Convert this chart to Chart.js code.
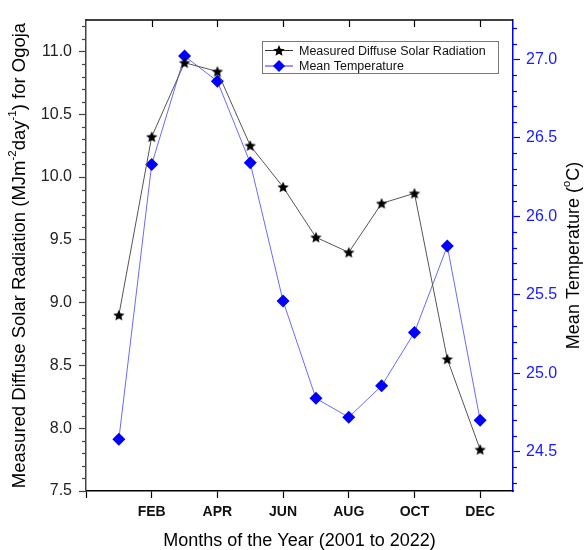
<!DOCTYPE html>
<html>
<head>
<meta charset="utf-8">
<script src="https://cdn.jsdelivr.net/npm/chart.js@4/dist/chart.umd.min.js"></script>
<style>
  html, body { margin: 0; padding: 0; background: #fff; }
  #wrap { width: 586px; height: 550px; position: relative; }
</style>
</head>
<body>
<div id="wrap"><canvas id="c"></canvas></div>
<script>
// ---- data ----
const monthNames = ['', 'JAN', 'FEB', 'MAR', 'APR', 'MAY', 'JUN', 'JUL', 'AUG', 'SEP', 'OCT', 'NOV', 'DEC'];
const monthIndex = [1, 2, 3, 4, 5, 6, 7, 8, 9, 10, 11, 12];
const radiation = [8.90, 10.32, 10.91, 10.84, 10.25, 9.92, 9.52, 9.40, 9.79, 9.87, 8.55, 7.83];
const temperature = [24.58, 26.33, 27.02, 26.86, 26.34, 25.46, 24.84, 24.72, 24.92, 25.26, 25.81, 24.70];
const xTicks = [0, 2, 4, 6, 8, 10, 12];
const leftTicks = [7.5, 8.0, 8.5, 9.0, 9.5, 10.0, 10.5, 11.0];
const rightTicks = [24.5, 25.0, 25.5, 26.0, 26.5, 27.0];
const seriesNames = ['Measured Diffuse Solar Radiation', 'Mean Temperature'];

const FONT = '"Liberation Sans", Arial, sans-serif';

function makeStar(r, color) {
  const s = Math.ceil(r * 2 + 2);
  const c = document.createElement('canvas');
  c.width = s; c.height = s;
  const g = c.getContext('2d');
  g.fillStyle = color;
  g.beginPath();
  for (let i = 0; i < 10; i++) {
    const rad = i % 2 ? r * 0.45 : r;
    const a = -Math.PI / 2 + i * Math.PI / 5;
    g.lineTo(s / 2 + rad * Math.cos(a), s / 2 + rad * Math.sin(a) + 0.5);
  }
  g.closePath();
  g.fill();
  return c;
}
const starImg = makeStar(6, '#000');

function drawStarPath(ctx, x, y, r) {
  ctx.beginPath();
  for (let i = 0; i < 10; i++) {
    const rad = i % 2 ? r * 0.45 : r;
    const a = -Math.PI / 2 + i * Math.PI / 5;
    ctx.lineTo(x + rad * Math.cos(a), y + rad * Math.sin(a));
  }
  ctx.closePath();
}

const decor = {
  id: 'decor',
  afterDraw(chart) {
    const ctx = chart.ctx;
    const a = chart.chartArea;
    const xs = chart.scales.x, yl = chart.scales.y, yr = chart.scales.y1;
    ctx.save();
    // top border
    ctx.strokeStyle = '#000';
    ctx.lineWidth = 1.5;
    ctx.beginPath();
    ctx.moveTo(a.left, a.top); ctx.lineTo(a.right, a.top);
    ctx.stroke();
    // top inward ticks
    ctx.lineWidth = 1.2;
    xTicks.forEach(v => {
      if (v === 0) return;
      const px = Math.round(xs.getPixelForValue(v)) + 0.5;
      ctx.beginPath(); ctx.moveTo(px, a.top); ctx.lineTo(px, a.top + 7); ctx.stroke();
    });
    // minor ticks left
    ctx.strokeStyle = '#444';
    ctx.lineWidth = 1.2;
    for (let k = 75; k <= 112; k++) {
      const v = k / 10;
      if (k % 5 === 0) continue;
      const py = Math.round(yl.getPixelForValue(v)) + 0.5;
      ctx.beginPath(); ctx.moveTo(a.left, py); ctx.lineTo(a.left - 4, py); ctx.stroke();
    }
    // minor ticks right
    ctx.strokeStyle = '#0000ff';
    for (let k = 243; k <= 272; k++) {
      const v = k / 10;
      if (k % 5 === 0) continue;
      const py = Math.round(yr.getPixelForValue(v)) + 0.5;
      ctx.beginPath(); ctx.moveTo(a.right, py); ctx.lineTo(a.right + 4, py); ctx.stroke();
    }

    // axis titles
    function drawSegments(segs, cx, cy, rot, size, color) {
      ctx.save();
      ctx.translate(cx, cy);
      ctx.rotate(rot);
      ctx.fillStyle = color;
      ctx.textBaseline = 'middle';
      ctx.textAlign = 'left';
      let total = 0;
      segs.forEach(s => {
        const fs = s.sup ? size * 0.62 : size;
        ctx.font = fs + 'px ' + FONT;
        s.w = ctx.measureText(s.t).width;
        total += s.w;
      });
      let x = -total / 2;
      segs.forEach(s => {
        const fs = s.sup ? size * 0.62 : size;
        ctx.font = fs + 'px ' + FONT;
        ctx.fillText(s.t, x, s.sup ? -size * 0.38 : 0);
        x += s.w;
      });
      ctx.restore();
    }
    const midY = (a.top + a.bottom) / 2;
    drawSegments([
      { t: 'Measured Diffuse Solar Radiation (MJm' },
      { t: '-2', sup: true },
      { t: 'day' },
      { t: '-1', sup: true },
      { t: ') for Ogoja' }
    ], 20, midY, -Math.PI / 2, 18.5, '#000');
    drawSegments([
      { t: 'Mean Temperature (' },
      { t: 'o', sup: true },
      { t: 'C)' }
    ], 574, midY, -Math.PI / 2, 18, '#000');
    drawSegments([{ t: 'Months of the Year (2001 to 2022)' }], (a.left + a.right) / 2, 541, 0, 18, '#000');

    // legend
    const bx = 262.5, by = 41.5, bw = 236, bh = 32;
    ctx.fillStyle = '#fff';
    ctx.fillRect(bx, by, bw, bh);
    ctx.strokeStyle = '#777';
    ctx.lineWidth = 1;
    ctx.strokeRect(bx, by, bw, bh);
    const rows = [by + 9, by + 24.5];
    // row 1
    ctx.strokeStyle = '#333';
    ctx.beginPath(); ctx.moveTo(265, rows[0]); ctx.lineTo(293, rows[0]); ctx.stroke();
    ctx.fillStyle = '#000';
    drawStarPath(ctx, 279, rows[0] + 0.5, 6); ctx.fill();
    // row 2
    ctx.strokeStyle = '#3030ff';
    ctx.beginPath(); ctx.moveTo(265, rows[1]); ctx.lineTo(293, rows[1]); ctx.stroke();
    ctx.fillStyle = '#0000ff';
    ctx.beginPath();
    ctx.moveTo(279, rows[1] - 6); ctx.lineTo(285, rows[1]); ctx.lineTo(279, rows[1] + 6); ctx.lineTo(273, rows[1]);
    ctx.closePath(); ctx.fill();
    ctx.fillStyle = '#111';
    ctx.font = '12.5px ' + FONT;
    ctx.textBaseline = 'middle';
    ctx.textAlign = 'left';
    ctx.fillText(seriesNames[0], 299, rows[0] + 1);
    ctx.fillText(seriesNames[1], 299, rows[1] + 1);
    ctx.restore();
  }
};

new Chart(document.getElementById('c'), {
  type: 'line',
  data: {
    datasets: [
      {
        label: seriesNames[0],
        data: monthIndex.map((m, i) => ({ x: m, y: radiation[i] })),
        yAxisID: 'y',
        borderColor: '#555',
        borderWidth: 1,
        pointStyle: starImg,
        pointRadius: 6,
        pointHoverRadius: 6,
        tension: 0,
        order: 0
      },
      {
        label: seriesNames[1],
        data: monthIndex.map((m, i) => ({ x: m, y: temperature[i] })),
        yAxisID: 'y1',
        borderColor: '#6a6aff',
        borderWidth: 1,
        pointStyle: 'rectRot',
        pointRadius: 6.5,
        pointHoverRadius: 6.5,
        pointBackgroundColor: '#0000ff',
        pointBorderColor: '#0000ff',
        pointBorderWidth: 0,
        tension: 0,
        order: 1
      }
    ]
  },
  options: {
    responsive: true,
    maintainAspectRatio: false,
    animation: false,
    events: [],
    layout: { padding: { left: 0, right: 0, top: 20, bottom: 0 } },
    plugins: { legend: { display: false }, tooltip: { enabled: false }, title: { display: false } },
    scales: {
      x: {
        type: 'linear',
        min: 0, max: 13,
        afterFit: s => { s.height = 59; },
        afterBuildTicks: s => { s.ticks = xTicks.map(v => ({ value: v })); },
        ticks: {
          autoSkip: false,
          maxRotation: 0,
          padding: 6,
          color: '#111',
          font: { family: FONT, size: 14, weight: 'bold' },
          callback: v => monthNames[v] || ''
        },
        grid: { display: true, drawOnChartArea: false, drawTicks: true, tickLength: 7, tickColor: '#000', tickWidth: 1.2 },
        border: { display: true, color: '#000', width: 1.5 }
      },
      y: {
        type: 'linear',
        position: 'left',
        min: 7.5, max: 11.25,
        afterFit: s => { s.width = 86; },
        afterBuildTicks: s => { s.ticks = leftTicks.map(v => ({ value: v })); },
        ticks: {
          padding: 7,
          color: '#222',
          font: { family: FONT, size: 16 },
          callback: v => Number(v).toFixed(1)
        },
        grid: { display: true, drawOnChartArea: false, drawTicks: true, tickLength: 7, tickColor: '#444', tickWidth: 1.2 },
        border: { display: true, color: '#444', width: 1.5 }
      },
      y1: {
        type: 'linear',
        position: 'right',
        min: 24.25, max: 27.25,
        afterFit: s => { s.width = 73; },
        afterBuildTicks: s => { s.ticks = rightTicks.map(v => ({ value: v })); },
        ticks: {
          padding: 6,
          color: '#1a1aff',
          font: { family: FONT, size: 16 },
          callback: v => Number(v).toFixed(1)
        },
        grid: { display: true, drawOnChartArea: false, drawTicks: true, tickLength: 7, tickColor: '#0000ff', tickWidth: 1.2 },
        border: { display: true, color: '#0000ff', width: 1.5 }
      }
    }
  },
  plugins: [decor]
});
</script>
</body>
</html>
